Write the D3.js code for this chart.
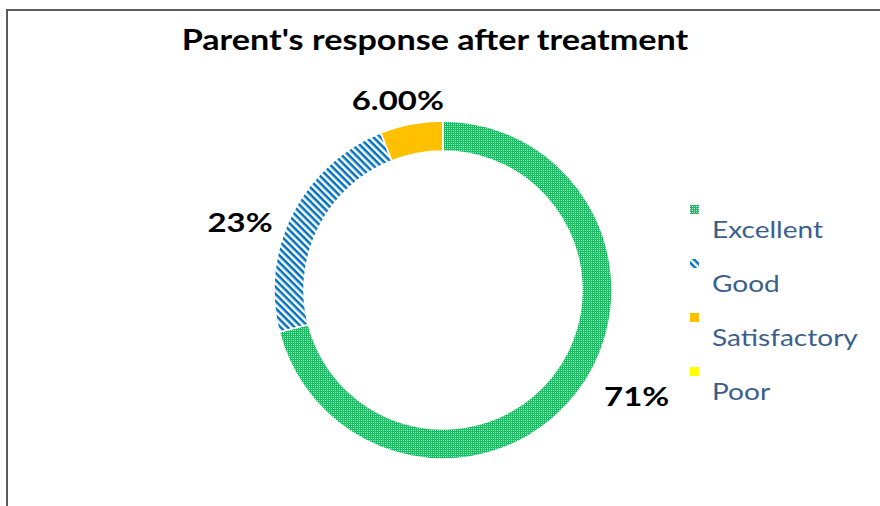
<!DOCTYPE html>
<html>
<head>
  <title></title>
  <script src="https://d3js.org/d3.v7.min.js"></script>
  <style>
    body { margin: 0; background: #fff; }
    text { font-family: Lato, "Open Sans", sans-serif; }
  </style>
</head>
<body>
<script type="text/javascript">
// data
var categories = ["Excellent", "Good", "Satisfactory", "Poor"];
var values = [71, 23, 6, 0];
var labels = ["71%", "23%", "6.00%", ""];
// label nudges (deg, radius) so they sit like the original
var labelAngle = [-9, -8.5, -2.6, 0];
var labelRadius = [221, 214, 195, 195];

var width = 880, height = 506;
var cx = 443, cy = 290, outer = 169, inner = 139;
var sx = 1.22; // original text is horizontally stretched

var svg = d3.select("body")
            .append("svg")
            .attr("width", width)
            .attr("height", height);

// patterns
var defs = svg.append("defs");
var pg = defs.append("pattern")
             .attr("id", "pGreen")
             .attr("patternUnits", "userSpaceOnUse")
             .attr("width", 4).attr("height", 4);
pg.append("rect").attr("width", 4).attr("height", 4).attr("fill", "#1fbb62");
pg.append("rect").attr("x", 0).attr("y", 0).attr("width", 1).attr("height", 1).attr("fill", "#e6f7ec");
pg.append("rect").attr("x", 2).attr("y", 2).attr("width", 1).attr("height", 1).attr("fill", "#e6f7ec");
pg.append("rect").attr("x", 2).attr("y", 0).attr("width", 1).attr("height", 1).attr("fill", "#9adfb5");
pg.append("rect").attr("x", 0).attr("y", 2).attr("width", 1).attr("height", 1).attr("fill", "#9adfb5");

var pb = defs.append("pattern")
             .attr("id", "pBlue")
             .attr("patternUnits", "userSpaceOnUse")
             .attr("width", 5).attr("height", 5)
             .attr("patternTransform", "rotate(45)");
pb.append("rect").attr("width", 5).attr("height", 5).attr("fill", "#fff");
pb.append("rect").attr("width", 5).attr("height", 2.5).attr("fill", "#0070C0");

var color = d3.scaleOrdinal()
              .domain(categories)
              .range(["url(#pGreen)", "url(#pBlue)", "#FFC000", "#FFFF00"]);

// border
svg.append("path")
   .attr("d", "M7,506 V10 H880")
   .attr("fill", "none")
   .attr("stroke", "#5a5a5a")
   .attr("stroke-width", 2);

// title
svg.append("text")
   .attr("transform", "translate(435,50) scale(" + sx + ",1)")
   .attr("text-anchor", "middle")
   .attr("font-size", 28)
   .attr("font-weight", "bold")
   .attr("fill", "#000")
   .text("Parent's response after treatment");

var pie = d3.pie()
            .sort(null)
            .value(function(d){ return d.val; });
var arc = d3.arc().outerRadius(outer).innerRadius(inner);

var data = categories.map(function(c, i){ return {cat: c, val: values[i], label: labels[i], i: i}; });

var g = svg.append("g").attr("transform", "translate(" + cx + "," + cy + ")");
var slices = pie(data);

g.selectAll(".arc")
 .data(slices)
 .enter()
 .append("path")
 .attr("class", "arc")
 .attr("d", arc)
 .attr("fill", function(d){ return color(d.data.cat); })
 .attr("stroke", "#fff")
 .attr("stroke-width", 1.5);

g.selectAll(".lbl")
 .data(slices.filter(function(d){ return d.data.label; }))
 .enter()
 .append("text")
 .attr("class", "lbl")
 .attr("transform", function(d){
   var a = (d.startAngle + d.endAngle) / 2 + labelAngle[d.data.i] * Math.PI / 180;
   var r = labelRadius[d.data.i];
   return "translate(" + (r * Math.sin(a)) + "," + (-r * Math.cos(a)) + ") scale(" + sx + ",1)";
 })
 .attr("dy", "0.35em")
 .attr("text-anchor", "middle")
 .attr("font-size", 27)
 .attr("font-weight", "bold")
 .attr("fill", "#000")
 .text(function(d){ return d.data.label; });

// legend
var legY = d3.scalePoint().domain(categories).range([238, 400]);
var leg = svg.selectAll(".leg")
             .data(categories)
             .enter()
             .append("g")
             .attr("class", "leg")
             .attr("transform", function(d){ return "translate(0," + legY(d) + ")"; });
leg.append("rect")
   .attr("x", 690).attr("y", -33)
   .attr("width", 9).attr("height", 9)
   .attr("fill", function(d){ return color(d); });
leg.append("text")
   .attr("transform", "translate(712,0) scale(" + sx + ",1)")
   .attr("font-size", 23)
   .attr("fill", "#3b5f8c")
   .text(function(d){ return d; });
</script>
</body>
</html>
